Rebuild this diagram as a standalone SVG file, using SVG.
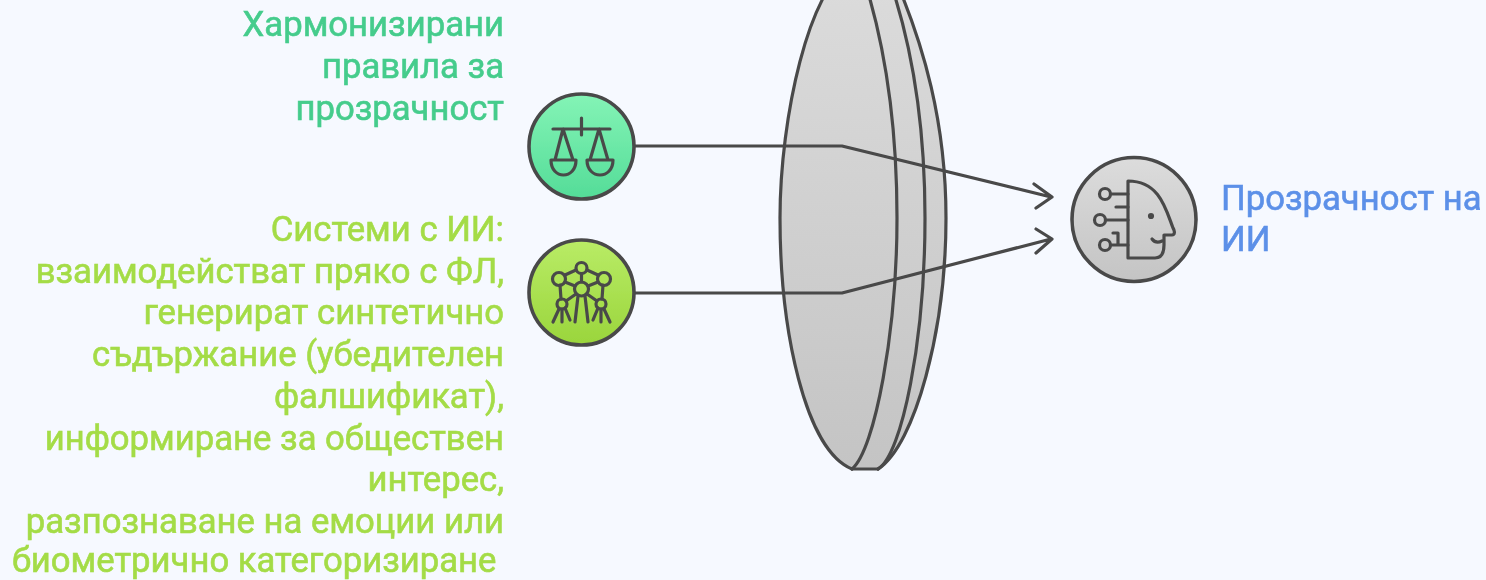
<svg xmlns="http://www.w3.org/2000/svg" width="1486" height="580" viewBox="0 0 1486 580">
<defs>
<linearGradient id="gG" x1="0" y1="0" x2="0" y2="1"><stop offset="0" stop-color="#84f4b6"/><stop offset="1" stop-color="#54dc98"/></linearGradient>
<linearGradient id="gL" x1="0" y1="0" x2="0" y2="1"><stop offset="0" stop-color="#b9ec66"/><stop offset="1" stop-color="#9ad53c"/></linearGradient>
<linearGradient id="gS" x1="0" y1="0" x2="0" y2="1"><stop offset="0" stop-color="#dcdcdc"/><stop offset="1" stop-color="#c4c4c4"/></linearGradient>
<linearGradient id="gLens" gradientUnits="userSpaceOnUse" x1="0" y1="-33" x2="0" y2="470"><stop offset="0" stop-color="#dcdcdc"/><stop offset="1" stop-color="#c4c4c4"/></linearGradient>
<filter id="soft" x="0" y="0" width="1486" height="580" filterUnits="userSpaceOnUse"><feGaussianBlur stdDeviation="0.55"/></filter>
</defs>
<style>
.t{font-family:"Roboto","Liberation Sans",sans-serif;font-size:34.67px;font-weight:400;text-anchor:end;stroke-width:0.6px}
.g{fill:#45cc8c;stroke:#45cc8c}.l{fill:#a4dc46;stroke:#a4dc46}
.b{fill:#5c90e8;stroke:#5c90e8;text-anchor:start}
.o{fill:none;stroke:#4a4a4a;stroke-width:3.2;stroke-linecap:round;stroke-linejoin:round}
.i{fill:none;stroke:#4a4a4a;stroke-width:3.2;stroke-linecap:round;stroke-linejoin:round}
.c{stroke:#4a4a4a;stroke-width:3.6}
.n{fill:none;stroke:#484848;stroke-width:3.2;stroke-linecap:round;stroke-linejoin:round}
</style>
<rect width="1486" height="580" fill="#f6f9ff"/>
<g filter="url(#soft)">
<g id="lens">
<path d="M878 469 C915 445 946 330 946 218 C946 125 925 45 890 -33 L850 -33 C810 -14 780 116 780 218 C780 330 805 450 850 469 Z" fill="url(#gLens)"/>
<path class="o" d="M878 469 C902 455 925 340 925 218 C925 120 912 40 885 -33"/>
<path class="o" d="M878 469 C915 445 946 330 946 218 C946 125 925 45 890 -33"/>
<path class="o" d="M852 469 L878 469"/>
<path class="o" d="M852 469 C875 450 897 330 897 218 C897 120 885 40 860 -33"/>
<path class="o" d="M850 -33 C810 -14 780 116 780 218 C780 330 805 450 852 469"/>
</g>
<g id="connectors">
<path class="n" d="M635 146 L842 146 L1051 197 M1034 184 L1052 197 L1036 208"/>
<path class="n" d="M635 293 L842 293 L1051 239 M1036 229 L1052 239 L1036 253"/>
</g>
<g id="node-harmonized">
<circle class="c" cx="581.500" cy="146.500" r="52.500" fill="url(#gG)"/>
<path class="i" d="M553 129 H610 M581.500 118 V135 M563 129 L555 160 H573 Z M599 129 L590 160 H608 Z M551 160 C551 180 576 180 576 160 Z M587 160 C587 180 613 180 613 160 Z"/>
<text class="t g" x="504" y="36">Хармонизирани</text>
<text class="t g" x="504" y="78">правила за</text>
<text class="t g" x="504" y="120">прозрачност</text>
</g>
<g id="node-systems">
<circle class="c" cx="581.500" cy="292.500" r="52.500" fill="url(#gL)"/>
<g class="i">
<circle cx="581.500" cy="268" r="5.500"/><circle cx="559" cy="279" r="6.500"/><circle cx="604" cy="279" r="6.500"/><circle cx="581.500" cy="289" r="7"/><circle cx="562" cy="304" r="5"/><circle cx="601" cy="304" r="5"/>
<path d="M576 270 L565 275 M587 270 L598 275 M581.500 274 V282 M565 282 L575 286 M598 282 L588 286 M560 285 L561 299 M603 285 L602 299 M576 294 L566 301 M587 294 L597 301 M559 309 L553 322 M562 309 V322 M565 308 L570 320 M598 308 L593 320 M601 309 V322 M604 309 L610 322 M578 296 L575 322 M585 296 L588 322"/>
</g>
<text class="t l" x="504" y="241">Системи с ИИ:</text>
<text class="t l" x="504" y="283">взаимодействат пряко с ФЛ,</text>
<text class="t l" x="504" y="324">генерират синтетично</text>
<text class="t l" x="504" y="366">съдържание (убедителен</text>
<text class="t l" x="504" y="408">фалшификат),</text>
<text class="t l" x="504" y="450">информиране за обществен</text>
<text class="t l" x="504" y="491">интерес,</text>
<text class="t l" x="504" y="533">разпознаване на емоции или</text>
<text class="t l" x="496.500" y="571.500">биометрично категоризиране</text>
</g>
<g id="node-transparency">
<circle class="c" cx="1134" cy="219.500" r="62" fill="url(#gS)"/>
<g class="i">
<path d="M1128 181 V258 H1155 C1162 258 1164 252 1164 245 V235 H1172 C1175 235 1175 231 1173 228 C1166 210 1160 181 1128 181 Z"/>
<circle cx="1105" cy="194" r="5.500"/><circle cx="1100" cy="220" r="5.500"/><circle cx="1105" cy="245" r="5.500"/>
<path d="M1111 194 H1128 M1116 207 H1128 M1106 220 H1128 M1111 245 H1128 M1118 245 V233 H1113 M1152 239 C1155 243 1158 243 1162 241"/>
<circle cx="1151" cy="216" r="1.500" fill="#4a4a4a"/>
</g>
<text class="t b" x="1221" y="210">Прозрачност на</text>
<text class="t b" x="1221" y="251">ИИ</text>
</g>
</g>
</svg>
